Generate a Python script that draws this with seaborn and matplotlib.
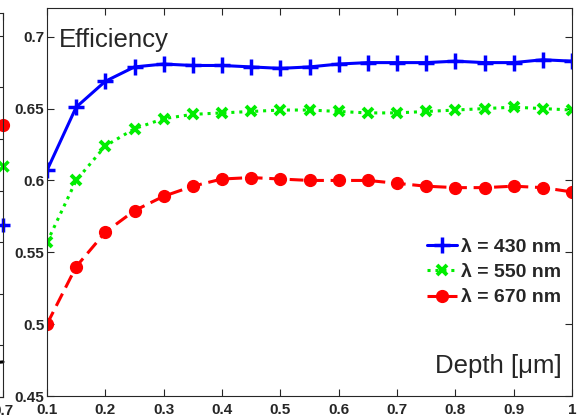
import numpy as np
import pandas as pd
import matplotlib
matplotlib.use("Agg")
import matplotlib.pyplot as plt
import seaborn as sns

# depth values (um) and efficiency per wavelength
depth = [0.1, 0.15, 0.2, 0.25, 0.3, 0.35, 0.4, 0.45, 0.5, 0.55,
         0.6, 0.65, 0.7, 0.75, 0.8, 0.85, 0.9, 0.95, 1.0]
eff_430 = [0.607, 0.651, 0.669, 0.679, 0.681, 0.680, 0.680, 0.679, 0.678, 0.679,
           0.681, 0.682, 0.682, 0.682, 0.683, 0.682, 0.682, 0.684, 0.683]
eff_550 = [0.557, 0.600, 0.624, 0.636, 0.643, 0.646, 0.647, 0.648, 0.649, 0.649,
           0.648, 0.647, 0.647, 0.648, 0.649, 0.650, 0.651, 0.650, 0.649]
eff_670 = [0.500, 0.540, 0.564, 0.579, 0.589, 0.596, 0.601, 0.602, 0.601, 0.600,
           0.600, 0.600, 0.598, 0.596, 0.595, 0.595, 0.596, 0.595, 0.592]
labels = ["λ = 430 nm", "λ = 550 nm", "λ = 670 nm"]

# neighbouring panel, only its right edge is visible
side_x = [0.65, 0.7]
side_red = [0.662, 0.6635]
side_green = [0.623, 0.624]
side_blue = [0.566, 0.5665]
side_black = [0.432, 0.434]

sns.set_style("ticks")
plt.rcParams["font.family"] = ["Liberation Sans", "DejaVu Sans"]
plt.rcParams["font.weight"] = "bold"

fig = plt.figure(figsize=(5.85, 4.16), dpi=100)
W, H = 585, 416

def px_axes(left, top, right, bottom):
    return fig.add_axes([left / W, 1 - bottom / H, (right - left) / W, (bottom - top) / H])

# --- side panel sliver (only its right edge is in frame) ---
side = px_axes(-300, 13, 3, 397)
side.plot(side_x, side_black, color="black", lw=2.2, clip_on=False)
side.plot(side_x[-1:], side_red[-1:], color="red", marker="o", ms=8.5, ls="none", clip_on=False)
side.plot(side_x[-1:], side_green[-1:], color="#00ee00", marker="x", ms=7, mew=2.5, ls="none", clip_on=False)
side.plot(side_x[-1:], side_blue[-1:], color="blue", marker="+", ms=10, mew=2.5, ls="none", clip_on=False)
side.set_xlim(0, 0.7)
side.set_ylim(0.4, 0.772)
side.set_xticks([0.7])
side.set_xticklabels(["0.7"])
side.set_yticks(np.arange(0.4, 0.76, 0.05))
side.tick_params(direction="in", length=5, width=0.8, right=True, top=True,
                 labelleft=False, labelsize=11, pad=5, colors="#262626")
for s in side.spines.values():
    s.set_color("#262626")
    s.set_linewidth(0.8)

# --- main panel ---
ax = px_axes(47, 8, 572, 396)
df = pd.DataFrame({"depth": depth * 3,
                   "eff": eff_430 + eff_550 + eff_670,
                   "series": sum([[l] * len(depth) for l in labels], [])})

styles = [
    dict(color="blue", linestyle="-", marker="+", markersize=11, markeredgewidth=2.5),
    dict(color="#00ee00", linestyle=(0, (1, 1.6)), marker="x", markersize=7.5, markeredgewidth=2.8),
    dict(color="red", linestyle=(0, (4.5, 2.2)), marker="o", markersize=8.5, markeredgewidth=1),
]
for lab, st in zip(labels, styles):
    sub = df[df["series"] == lab]
    sns.lineplot(data=sub, x="depth", y="eff", ax=ax, label=lab, lw=2.2,
                 markeredgecolor=st["color"], **st)

ax.set_xlim(0.1, 1.0)
ax.set_ylim(0.45, 0.72)
ax.set_xticks(np.arange(0.1, 1.01, 0.1))
ax.set_xticklabels(["0.1", "0.2", "0.3", "0.4", "0.5", "0.6", "0.7", "0.8", "0.9", "1"])
ax.set_yticks([0.45, 0.5, 0.55, 0.6, 0.65, 0.7])
ax.set_yticklabels(["0.45", "0.5", "0.55", "0.6", "0.65", "0.7"])
ax.tick_params(direction="in", length=5, width=0.8, top=True, right=True,
               labelsize=11, colors="#262626")
ax.tick_params(axis="x", pad=5)
ax.tick_params(axis="y", pad=2)
for s in ax.spines.values():
    s.set_color("#262626")
    s.set_linewidth(0.8)
ax.set_xlabel("")
ax.set_ylabel("")

ax.text(0.0229, 0.8995, "Efficiency", transform=ax.transAxes, fontsize=18.5,
        fontweight="normal", ha="left", va="baseline")
ax.text(0.98, 0.0593, "Depth [μm]", transform=ax.transAxes, fontsize=18.5,
        fontweight="normal", ha="right", va="baseline")

ax.legend(loc="upper right", bbox_to_anchor=(0.979, 0.407), frameon=False,
          handlelength=1.55, handletextpad=0.2, labelspacing=0.4,
          borderpad=0, borderaxespad=0, prop={"weight": "bold", "size": 14})

fig.savefig("out.png", dpi=100)
